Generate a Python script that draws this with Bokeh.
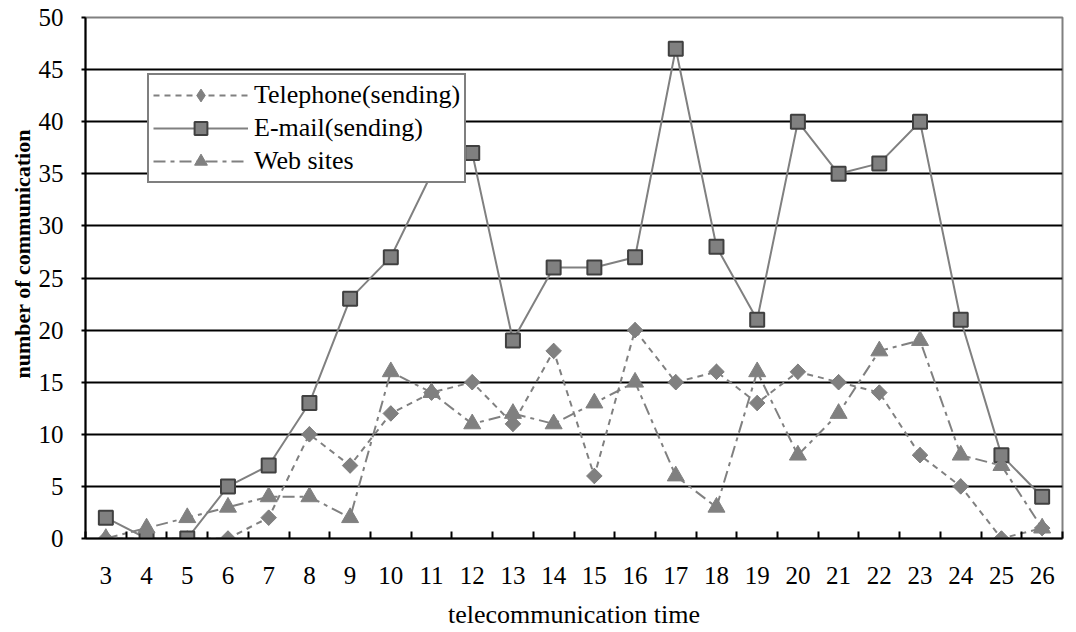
import math
from bokeh.plotting import figure
from bokeh.models import Range1d, FixedTicker, Legend, Title
from bokeh.embed import file_html
from bokeh.resources import INLINE

hours = list(range(3, 27))
telephone = [0, 0, 0, 0, 2, 10, 7, 12, 14, 15, 11, 18, 6, 20, 15, 16, 13, 16, 15, 14, 8, 5, 0, 1]
email = [2, 0, 0, 5, 7, 13, 23, 27, 35, 37, 19, 26, 26, 27, 47, 28, 21, 40, 35, 36, 40, 21, 8, 4]
websites = [0, 1, 2, 3, 4, 4, 2, 16, 14, 11, 12, 11, 13, 15, 6, 3, 16, 8, 12, 18, 19, 8, 7, 1]
y_ticks = list(range(0, 51, 5))

FONT = "Liberation Serif"
GREY = "#808080"
DARK = "#404040"

p = figure(width=1076, height=632, output_backend="svg", toolbar_location=None,
           x_range=Range1d(hours[0] - 0.5, hours[-1] + 0.5), y_range=Range1d(0, 50),
           min_border_left=85, min_border_top=17, min_border_right=14, min_border_bottom=94)
p.background_fill_color = "white"
p.border_fill_color = "white"
p.outline_line_color = GREY
p.outline_line_width = 2

# x axis
p.xaxis.ticker = FixedTicker(ticks=hours, minor_ticks=[h - 0.5 for h in hours] + [hours[-1] + 0.5])
p.xaxis.major_tick_line_color = None
p.xaxis.minor_tick_line_color = "black"
p.xaxis.minor_tick_line_width = 2
p.xaxis.minor_tick_in = 7
p.xaxis.minor_tick_out = 0
p.xaxis.axis_line_color = "black"
p.xaxis.axis_line_width = 2
p.xaxis.major_label_text_font = FONT
p.xaxis.major_label_text_font_size = "25px"
p.xaxis.major_label_text_color = "black"
p.xaxis.major_label_standoff = 22
p.xaxis.axis_label = "telecommunication time"
p.xaxis.axis_label_text_font = FONT
p.xaxis.axis_label_text_font_size = "26px"
p.xaxis.axis_label_text_font_style = "normal"
p.xaxis.axis_label_text_color = "black"
p.xaxis.axis_label_standoff = 13

# y axis
p.yaxis.ticker = FixedTicker(ticks=y_ticks)
p.yaxis.minor_tick_line_color = None
p.yaxis.major_tick_line_color = "black"
p.yaxis.major_tick_line_width = 2
p.yaxis.major_tick_in = 0
p.yaxis.major_tick_out = 4
p.yaxis.axis_line_color = "black"
p.yaxis.axis_line_width = 2
p.yaxis.major_label_text_font = FONT
p.yaxis.major_label_text_font_size = "25px"
p.yaxis.major_label_text_color = "black"
p.yaxis.major_label_standoff = 18

ytitle = Title(text="number of communication", align="left", offset=160,
               text_font=FONT, text_font_size="22px", text_font_style="bold",
               text_color="black", standoff=2)
p.add_layout(ytitle, "left")

p.xgrid.grid_line_color = None
p.ygrid.grid_line_color = "black"
p.ygrid.grid_line_width = 2

# series
l1 = p.line(hours, telephone, line_color=GREY, line_width=2, line_dash="6 5")
d1 = p.scatter(hours, telephone, marker="diamond", size=15,
               fill_color=GREY, line_color=GREY, line_width=1)
s1 = p.scatter(hours, telephone, marker="square", angle=math.pi / 4, size=11,
               fill_color=GREY, line_color=GREY, line_width=1)
l2 = p.line(hours, email, line_color=GREY, line_width=2)
s2 = p.scatter(hours, email, marker="square", size=14,
               fill_color=GREY, line_color=DARK, line_width=2)
l3 = p.line(hours, websites, line_color=GREY, line_width=2, line_dash="12 5 4 5")
s3 = p.scatter(hours, websites, marker="triangle", size=17,
               fill_color=GREY, line_color=GREY, line_width=1)

legend = Legend(items=[("Telephone(sending)", [l1, d1]),
                       ("E-mail(sending)", [l2, s2]),
                       ("Web sites", [l3, s3])],
                location=(62, 355))
legend.label_text_font = FONT
legend.label_text_font_size = "26px"
legend.label_text_color = "black"
legend.glyph_width = 95
legend.glyph_height = 32
legend.label_height = 30
legend.spacing = 1
legend.padding = 4
legend.margin = 0
legend.label_standoff = 6
legend.border_line_color = "black"
legend.border_line_width = 2
legend.background_fill_color = "white"
legend.background_fill_alpha = 1
p.add_layout(legend, "center")

open("out.html", "w").write(file_html(p, INLINE))
